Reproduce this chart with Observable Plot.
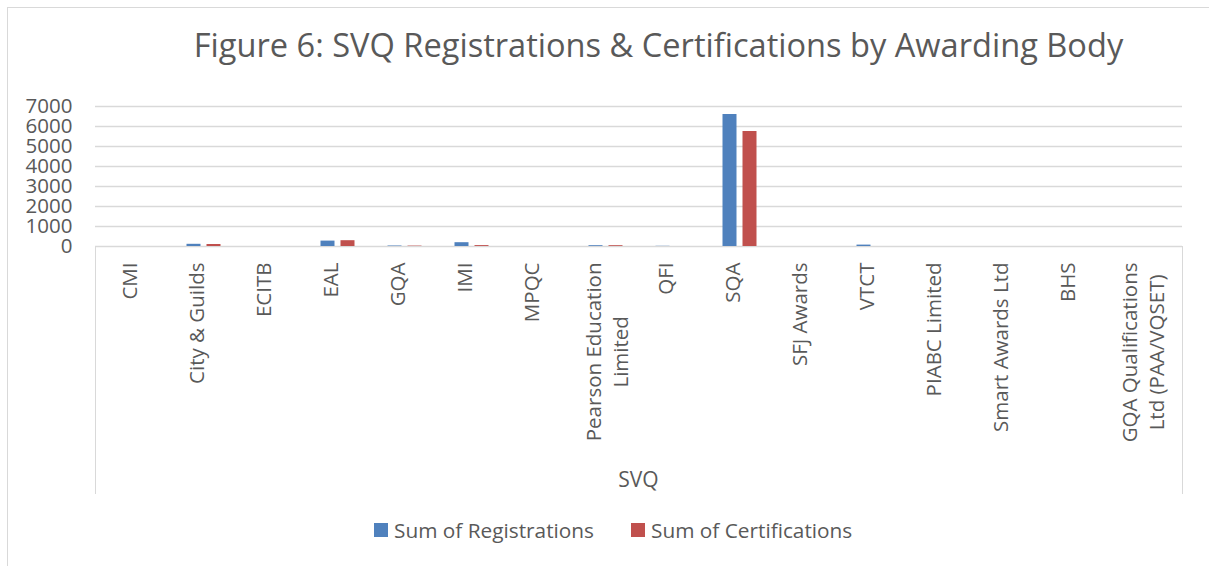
<!DOCTYPE html>
<html>
<head>
<meta charset="utf-8">
<script src="https://cdn.jsdelivr.net/npm/d3@7"></script>
<script src="https://cdn.jsdelivr.net/npm/@observablehq/plot@0.6"></script>
<style>
  html, body { margin: 0; padding: 0; background: #fff; }
  body { width: 1209px; height: 566px; overflow: hidden; position: relative; font-family: "Open Sans", Lato, sans-serif; color: #595959; }
  #frame { position: absolute; left: 7px; top: 7px; width: 1300px; height: 700px; border-left: 1.5px solid #d9d9d9; border-top: 1.5px solid #d9d9d9; }
  #title { position: absolute; left: 0; width: 1317px; top: 24px; text-align: center; font-size: 32.6px; line-height: 42px; white-space: nowrap; }
  #chart { position: absolute; left: 0; top: 90px; }
  #box { position: absolute; left: 95px; top: 246px; width: 1088px; height: 248px; border-left: 1.5px solid #d9d9d9; border-right: 1.5px solid #d9d9d9; box-sizing: border-box; }
  #svq { position: absolute; left: 95px; width: 1087px; top: 464px; text-align: center; font-size: 21px; line-height: 30px; }
  #legend { position: absolute; top: 515px; left: 374px; font-size: 20.8px; line-height: 30px; white-space: nowrap; display: flex; align-items: center; }
  .sw { display: inline-block; width: 14px; height: 14px; margin-right: 6px; }
  .item { display: flex; align-items: center; margin-right: 37px; }
</style>
</head>
<body>
<div id="frame"></div>
<div id="title">Figure 6: SVQ Registrations &amp; Certifications by Awarding Body</div>
<div id="box"></div>
<div id="chart"></div>
<div id="svq">SVQ</div>
<div id="legend"></div>
<script>
const categories = ["CMI", "City & Guilds", "ECITB", "EAL", "GQA", "IMI", "MPQC", "Pearson Education\nLimited", "QFI", "SQA", "SFJ Awards", "VTCT", "PIABC Limited", "Smart Awards Ltd", "BHS", "GQA Qualifications\nLtd (PAA/VQSET)"];
const registrations = [0, 110, 0, 270, 25, 190, 0, 40, 10, 6600, 0, 70, 0, 0, 0, 0];
const certifications = [0, 100, 0, 290, 20, 45, 0, 40, 0, 5750, 0, 0, 0, 0, 0, 0];
const seriesNames = ["Sum of Registrations", "Sum of Certifications"];
const seriesColors = ["#4F81BD", "#C0504D"];
const yTicks = [0, 1000, 2000, 3000, 4000, 5000, 6000, 7000];

const regData = categories.map((c, i) => ({cat: c, value: registrations[i]}));
const certData = categories.map((c, i) => ({cat: c, value: certifications[i]}));
const singleLine = categories.filter(c => !c.includes("\n"));
const multiLine = categories.filter(c => c.includes("\n"));

const labelStyle = {x: d => d, text: d => d, frameAnchor: "bottom", rotate: -90, textAnchor: "end", fontSize: 20.5, fill: "#595959", lineHeight: 1.3};

const chart = Plot.plot({
  width: 1209,
  height: 410,
  marginLeft: 95,
  marginRight: 27,
  marginTop: 16,
  marginBottom: 254,
  style: {fontFamily: "'Open Sans', Lato, sans-serif", color: "#595959", background: "transparent", overflow: "visible"},
  x: {domain: categories, padding: 0, axis: null},
  y: {domain: [0, 7000], axis: null},
  marks: [
    Plot.ruleY(yTicks, {stroke: "#d9d9d9", strokeWidth: 1.5}),
    Plot.axisY(yTicks, {tickSize: 0, tickPadding: 23, tickFormat: d => String(d), fontSize: 20.5, fill: "#595959", label: null}),
    Plot.barY(regData, {x: "cat", y: "value", fill: seriesColors[0], insetLeft: 16.5, insetRight: 36.5}),
    Plot.barY(certData, {x: "cat", y: "value", fill: seriesColors[1], insetLeft: 36.5, insetRight: 16.5}),
    Plot.text(singleLine, {...labelStyle}),
    Plot.text(multiLine, {...labelStyle, lineAnchor: "middle"})
  ]
});
document.getElementById("chart").appendChild(chart);

// push category labels below the axis and centre the lines of two-line labels
chart.querySelectorAll('g[aria-label="text"]').forEach(labelGroup => {
  const prev = labelGroup.getAttribute("transform");
  labelGroup.setAttribute("transform", (prev ? prev + " " : "") + "translate(0,16)");
  labelGroup.querySelectorAll("text").forEach(t => {
    const spans = t.querySelectorAll("tspan");
    if (spans.length > 1) {
      const m = Math.max(...[...spans].map(s => s.getComputedTextLength()));
      spans.forEach(s => { s.setAttribute("text-anchor", "middle"); s.setAttribute("x", -m / 2); });
    }
  });
});

const legend = document.getElementById("legend");
seriesNames.forEach((name, i) => {
  const item = document.createElement("div");
  item.className = "item";
  const sw = document.createElement("span");
  sw.className = "sw";
  sw.style.background = seriesColors[i];
  item.appendChild(sw);
  item.appendChild(document.createTextNode(name));
  legend.appendChild(item);
});
</script>
</body>
</html>
